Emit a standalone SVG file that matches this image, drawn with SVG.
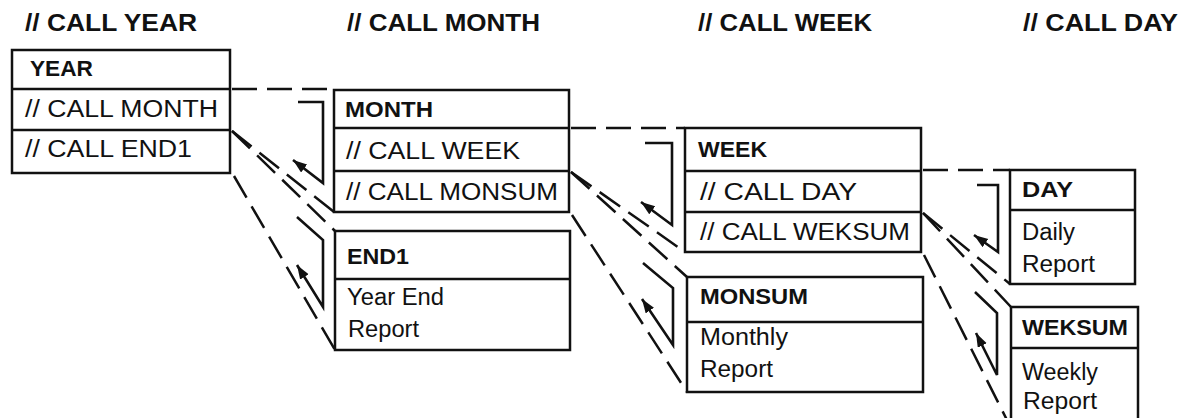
<svg xmlns="http://www.w3.org/2000/svg" width="1183" height="418" viewBox="0 0 1183 418">
  <style>
    .box { fill: #fff; stroke: #111; stroke-width: 2.5; }
    .div { stroke: #111; stroke-width: 2.5; }
    .t { font-family: "Liberation Sans", Arial, sans-serif; font-size: 23px; fill: #111; }
    .b { font-weight: bold; font-size: 22px; }
    .h { font-family: "Liberation Sans", Arial, sans-serif; font-size: 23.5px; font-weight: bold; fill: #111; }
    .dash { fill: none; stroke: #111; stroke-width: 2.5; stroke-dasharray: 25 10; }
    .flow { fill: none; stroke: #111; stroke-width: 2.6; stroke-linejoin: miter; }
  </style>
  <defs>
    <marker id="arrow" markerUnits="userSpaceOnUse" markerWidth="16" markerHeight="12" refX="14" refY="5" orient="auto">
      <path d="M0,0 L14,5 L0,10 Z" fill="#111"/>
    </marker>
  </defs>

  <!-- column captions -->
  <g id="captions">
    <text class="h" x="25" y="31" textLength="172" lengthAdjust="spacingAndGlyphs">// CALL YEAR</text>
    <text class="h" x="347" y="31" textLength="193" lengthAdjust="spacingAndGlyphs">// CALL MONTH</text>
    <text class="h" x="698" y="31" textLength="174" lengthAdjust="spacingAndGlyphs">// CALL WEEK</text>
    <text class="h" x="1023" y="31" textLength="155" lengthAdjust="spacingAndGlyphs">// CALL DAY</text>
  </g>

  <!-- connectors: dashed call projections and solid call/return flows -->
  <g id="connectors">
    <!-- YEAR -->
    <line class="dash" x1="232" y1="89" x2="333" y2="89"/>
    <line class="dash" x1="232" y1="131" x2="334" y2="212"/>
    <line class="dash" x1="232" y1="131" x2="335" y2="231"/>
    <line class="dash" x1="234" y1="176" x2="335" y2="350"/>
    <!-- MONTH -->
    <line class="dash" x1="571" y1="128" x2="685" y2="128"/>
    <line class="dash" x1="571" y1="172" x2="685" y2="252"/>
    <line class="dash" x1="571" y1="172" x2="687" y2="277"/>
    <line class="dash" x1="572" y1="215" x2="687" y2="392"/>
    <!-- WEEK -->
    <line class="dash" x1="923" y1="170" x2="1010" y2="170"/>
    <line class="dash" x1="923" y1="213" x2="1010" y2="284"/>
    <line class="dash" x1="923" y1="213" x2="1011" y2="307"/>
    <line class="dash" x1="924" y1="255" x2="1011" y2="428"/>

    <path class="flow" d="M298,102 H323 V183 L293,160" marker-end="url(#arrow)"/>
    <path class="flow" d="M297,217 L323,240 V307 L297,265" marker-end="url(#arrow)"/>
    <path class="flow" d="M645,143 H672 V225 L641,202" marker-end="url(#arrow)"/>
    <path class="flow" d="M643,263 L673,288 V345 L642,299" marker-end="url(#arrow)"/>
    <path class="flow" d="M977,185 H998 V252 L974,235" marker-end="url(#arrow)"/>
    <path class="flow" d="M975,292 L997,313 V375 L976,333" marker-end="url(#arrow)"/>
  </g>

  <g id="year">
    <rect class="box" x="12" y="50" width="218" height="123"/>
    <line class="div" x1="12" y1="89" x2="230" y2="89"/>
    <line class="div" x1="12" y1="130" x2="230" y2="130"/>
    <text class="t b" x="30" y="76" textLength="63" lengthAdjust="spacingAndGlyphs">YEAR</text>
    <text class="t" x="25" y="117" textLength="193" lengthAdjust="spacingAndGlyphs">// CALL MONTH</text>
    <text class="t" x="25" y="157" textLength="167" lengthAdjust="spacingAndGlyphs">// CALL END1</text>
  </g>

  <g id="month">
    <rect class="box" x="334" y="90" width="235" height="122"/>
    <line class="div" x1="334" y1="128" x2="569" y2="128"/>
    <line class="div" x1="334" y1="171" x2="569" y2="171"/>
    <text class="t b" x="345" y="117" textLength="88" lengthAdjust="spacingAndGlyphs">MONTH</text>
    <text class="t" x="346" y="159" textLength="174" lengthAdjust="spacingAndGlyphs">// CALL WEEK</text>
    <text class="t" x="346" y="200" textLength="212" lengthAdjust="spacingAndGlyphs">// CALL MONSUM</text>
  </g>

  <g id="end1">
    <rect class="box" x="335" y="231" width="235" height="119"/>
    <line class="div" x1="335" y1="279" x2="570" y2="279"/>
    <text class="t b" x="347" y="264" textLength="62" lengthAdjust="spacingAndGlyphs">END1</text>
    <text class="t" x="347" y="305" textLength="97" lengthAdjust="spacingAndGlyphs">Year End</text>
    <text class="t" x="348" y="337" textLength="71" lengthAdjust="spacingAndGlyphs">Report</text>
  </g>

  <g id="week">
    <rect class="box" x="685" y="128" width="236" height="124"/>
    <line class="div" x1="685" y1="171" x2="921" y2="171"/>
    <line class="div" x1="685" y1="212" x2="921" y2="212"/>
    <text class="t b" x="698" y="157" textLength="69" lengthAdjust="spacingAndGlyphs">WEEK</text>
    <text class="t" x="700" y="200" textLength="157" lengthAdjust="spacingAndGlyphs">// CALL DAY</text>
    <text class="t" x="700" y="240" textLength="210" lengthAdjust="spacingAndGlyphs">// CALL WEKSUM</text>
  </g>

  <g id="monsum">
    <rect class="box" x="687" y="277" width="236" height="115"/>
    <line class="div" x1="687" y1="322" x2="923" y2="322"/>
    <text class="t b" x="700" y="304" textLength="108" lengthAdjust="spacingAndGlyphs">MONSUM</text>
    <text class="t" x="700" y="345" textLength="88" lengthAdjust="spacingAndGlyphs">Monthly</text>
    <text class="t" x="700" y="377" textLength="73" lengthAdjust="spacingAndGlyphs">Report</text>
  </g>

  <g id="day">
    <rect class="box" x="1010" y="170" width="125" height="114"/>
    <line class="div" x1="1010" y1="210" x2="1135" y2="210"/>
    <text class="t b" x="1022" y="197" textLength="51" lengthAdjust="spacingAndGlyphs">DAY</text>
    <text class="t" x="1022" y="240" textLength="53" lengthAdjust="spacingAndGlyphs">Daily</text>
    <text class="t" x="1022" y="272" textLength="73" lengthAdjust="spacingAndGlyphs">Report</text>
  </g>

  <g id="weksum">
    <rect class="box" x="1011" y="307" width="127" height="125"/>
    <line class="div" x1="1011" y1="348" x2="1138" y2="348"/>
    <text class="t b" x="1022" y="335" textLength="106" lengthAdjust="spacingAndGlyphs">WEKSUM</text>
    <text class="t" x="1022" y="380" textLength="76" lengthAdjust="spacingAndGlyphs">Weekly</text>
    <text class="t" x="1023" y="409" textLength="74" lengthAdjust="spacingAndGlyphs">Report</text>
  </g>
</svg>
